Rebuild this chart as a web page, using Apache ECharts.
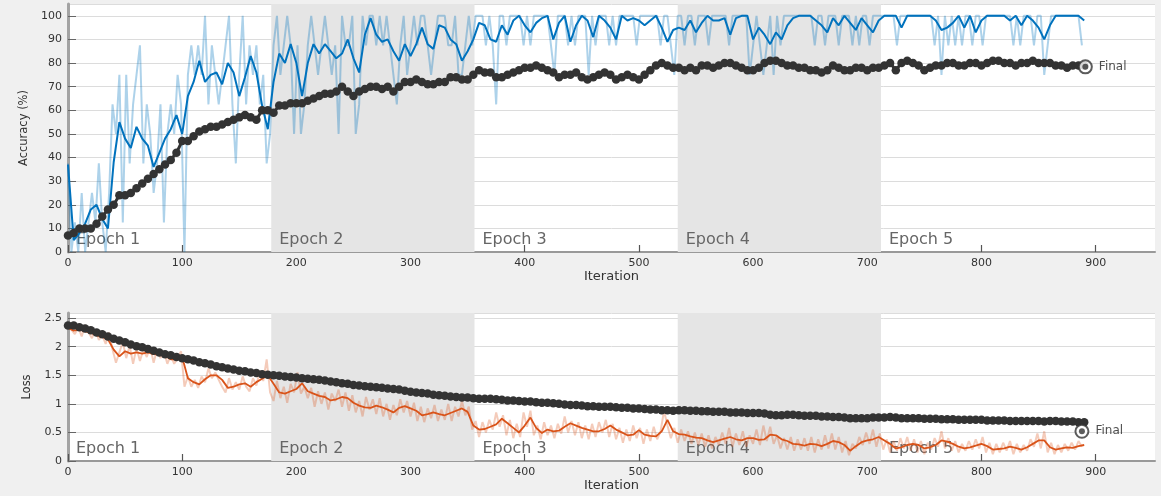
<!DOCTYPE html>
<html>
<head>
<meta charset="utf-8">
<title>Training Progress</title>
<script src="https://cdn.jsdelivr.net/npm/echarts@6/dist/echarts.min.js"></script>
<style>
  html, body { margin: 0; padding: 0; background: #f0f0f0; }
  #chart { width: 1161px; height: 496px; }
</style>
</head>
<body>
<div id="chart"></div>
<script>
// ---- Training run data -------------------------------------------------
const ITERS_PER_EPOCH = 178;
const EPOCHS = ['Epoch 1', 'Epoch 2', 'Epoch 3', 'Epoch 4', 'Epoch 5'];
const ITER_TICKS = [0, 100, 200, 300, 400, 500, 600, 700, 800, 900];

// sample spacing (iterations) of the stored curves
const RAW_STEP = 3;
const SMOOTH_STEP = 5;
const VAL_STEP = 5;

// mini-batch accuracy (%), every 3 iterations
const accuracyRaw = [
  37.5, 0, 12.5, 0, 25, 0, 12.5, 25, 12.5, 37.5,
  12.5, 0, 25, 62.5, 50, 75, 12.5, 75, 37.5, 62.5,
  75, 87.5, 37.5, 62.5, 50, 25, 37.5, 62.5, 12.5, 50,
  62.5, 50, 75, 62.5, 0, 75, 87.5, 75, 87.5, 75,
  100, 62.5, 87.5, 75, 62.5, 75, 87.5, 100, 62.5, 37.5,
  75, 100, 62.5, 87.5, 75, 87.5, 62.5, 75, 37.5, 50,
  87.5, 100, 75, 87.5, 100, 87.5, 50, 87.5, 50, 62.5,
  87.5, 100, 87.5, 75, 87.5, 100, 87.5, 75, 87.5, 50,
  100, 87.5, 87.5, 100, 50, 62.5, 100, 87.5, 100, 100,
  87.5, 100, 87.5, 100, 87.5, 75, 62.5, 87.5, 100, 75,
  87.5, 100, 87.5, 100, 100, 87.5, 75, 87.5, 100, 100,
  100, 87.5, 87.5, 100, 75, 75, 87.5, 100, 87.5, 100,
  100, 100, 87.5, 100, 87.5, 62.5, 100, 100, 87.5, 100,
  100, 100, 100, 87.5, 100, 87.5, 100, 100, 100, 100,
  100, 87.5, 75, 100, 100, 100, 87.5, 100, 87.5, 100,
  100, 100, 75, 100, 87.5, 100, 100, 100, 87.5, 100,
  87.5, 100, 100, 100, 100, 100, 87.5, 100, 100, 100,
  100, 100, 100, 87.5, 100, 100, 87.5, 75, 100, 100,
  87.5, 100, 100, 87.5, 100, 100, 100, 87.5, 100, 100,
  100, 100, 100, 87.5, 100, 100, 100, 100, 100, 75,
  87.5, 100, 87.5, 75, 87.5, 100, 75, 100, 87.5, 100,
  100, 100, 100, 100, 100, 100, 100, 100, 87.5, 100,
  100, 87.5, 100, 100, 100, 87.5, 100, 100, 100, 87.5,
  100, 87.5, 100, 100, 87.5, 100, 100, 100, 100, 100,
  100, 100, 87.5, 100, 100, 100, 100, 100, 100, 100,
  100, 100, 100, 87.5, 100, 75, 100, 87.5, 100, 87.5,
  100, 87.5, 100, 100, 87.5, 100, 100, 87.5, 100, 100,
  100, 100, 100, 100, 100, 100, 87.5, 100, 87.5, 100,
  100, 100, 87.5, 100, 100, 75, 87.5, 100, 100, 100,
  100, 100, 100, 100, 100, 100, 87.5
];

// smoothed training accuracy (%), every 5 iterations
const accuracySmooth = [
  37, 5, 8, 12, 18, 20, 14, 10, 38, 55,
  48, 44, 53, 48, 45, 36, 42, 48, 52, 58,
  50, 66, 72, 81, 72, 75, 76, 71, 80, 76,
  66, 74, 83, 76, 62, 52, 72, 84, 80, 88,
  80, 66, 80, 88, 84, 88, 85, 82, 84, 90,
  82, 76, 92, 99, 92, 89, 90, 85, 81, 88,
  83, 88, 95, 88, 86, 96, 95, 90, 88, 81,
  85, 90, 97, 96, 90, 89, 96, 92, 98, 100,
  96, 93, 97, 99, 100, 90, 97, 100, 89, 96,
  100, 98, 91, 100, 98, 95, 90, 100, 98, 99,
  98, 96, 98, 100, 95, 89, 94, 95, 94, 98,
  93, 97, 100, 98, 98, 99, 92, 99, 100, 100,
  90, 95, 92, 88, 93, 90, 96, 99, 100, 100,
  100, 98, 96, 93, 99, 96, 100, 97, 94, 99,
  96, 93, 98, 100, 100, 100, 95, 100, 100, 100,
  100, 100, 98, 94, 95, 97, 100, 95, 100, 93,
  98, 100, 100, 100, 100, 98, 100, 96, 100, 98,
  95, 90, 96, 100, 100, 100, 100, 100, 98
];

// validation accuracy (%), every 5 iterations
const accuracyVal = [
  7, 8, 10, 10, 10, 12, 15, 18, 20, 24,
  24, 25, 27, 29, 31, 33, 35, 37, 39, 42,
  47, 47, 49, 51, 52, 53, 53, 54, 55, 56,
  57, 58, 57, 56, 60, 60, 59, 62, 62, 63,
  63, 63, 64, 65, 66, 67, 67, 68, 70, 68,
  66, 68, 69, 70, 70, 69, 70, 68, 70, 72,
  72, 73, 72, 71, 71, 72, 72, 74, 74, 73,
  73, 75, 77, 76, 76, 74, 74, 75, 76, 77,
  78, 78, 79, 78, 77, 76, 74, 75, 75, 76,
  74, 73, 74, 75, 76, 75, 73, 74, 75, 74,
  73, 75, 77, 79, 80, 79, 78, 78, 77, 78,
  77, 79, 79, 78, 79, 80, 80, 79, 78, 77,
  77, 78, 80, 81, 81, 80, 79, 79, 78, 78,
  77, 77, 76, 77, 79, 78, 77, 77, 78, 78,
  77, 78, 78, 79, 80, 77, 80, 81, 80, 79,
  77, 78, 79, 79, 80, 80, 79, 79, 80, 80,
  79, 80, 81, 81, 80, 80, 79, 80, 80, 81,
  80, 80, 80, 79, 79, 78, 79, 79, 79
];

// mini-batch loss, every 3 iterations
const lossRaw = [
  2.36, 2.30, 2.22, 2.34, 2.18, 2.38, 2.25, 2.15, 2.30, 2.12,
  2.20, 2.05, 2.25, 1.95, 1.72, 1.90, 2.08, 1.80, 2.02, 1.70,
  1.98, 1.75, 1.95, 1.82, 2.00, 1.72, 1.95, 1.80, 1.92, 1.70,
  1.85, 1.70, 1.80, 1.92, 1.30, 1.48, 1.30, 1.42, 1.28, 1.48,
  1.38, 1.62, 1.45, 1.55, 1.42, 1.30, 1.20, 1.45, 1.25, 1.38,
  1.25, 1.48, 1.30, 1.22, 1.45, 1.32, 1.58, 1.40, 1.78, 1.20,
  1.05, 1.40, 1.10, 1.30, 1.02, 1.35, 1.20, 1.55, 1.18, 1.30,
  1.10, 1.28, 0.95, 1.22, 1.00, 1.20, 0.90, 1.18, 1.05, 1.25,
  0.95, 1.20, 0.88, 1.15, 0.85, 1.05, 0.78, 1.12, 0.90, 1.08,
  0.82, 1.10, 0.78, 1.00, 0.72, 0.98, 0.80, 1.08, 0.85, 1.05,
  0.78, 1.02, 0.70, 0.95, 0.68, 0.92, 0.75, 0.98, 0.70, 0.90,
  0.72, 1.00, 0.70, 0.95, 0.78, 1.05, 0.80, 0.95, 0.55, 0.70,
  0.42, 0.68, 0.50, 0.72, 0.55, 0.85, 0.60, 0.80, 0.45, 0.72,
  0.40, 0.65, 0.42, 0.85, 0.60, 0.88, 0.45, 0.62, 0.38, 0.68,
  0.45, 0.62, 0.40, 0.65, 0.48, 0.78, 0.50, 0.70, 0.45, 0.68,
  0.40, 0.62, 0.38, 0.65, 0.42, 0.68, 0.50, 0.72, 0.42, 0.65,
  0.38, 0.58, 0.32, 0.55, 0.35, 0.62, 0.40, 0.58, 0.30, 0.55,
  0.35, 0.60, 0.38, 0.52, 0.88, 0.62, 0.40, 0.58, 0.32, 0.55,
  0.35, 0.52, 0.30, 0.50, 0.28, 0.48, 0.25, 0.45, 0.22, 0.42,
  0.28, 0.50, 0.30, 0.58, 0.25, 0.48, 0.28, 0.52, 0.25, 0.45,
  0.30, 0.55, 0.28, 0.62, 0.35, 0.60, 0.30, 0.45, 0.22, 0.40,
  0.20, 0.42, 0.18, 0.38, 0.20, 0.40, 0.18, 0.42, 0.15, 0.38,
  0.20, 0.45, 0.22, 0.48, 0.20, 0.42, 0.15, 0.35, 0.10, 0.30,
  0.22, 0.42, 0.28, 0.50, 0.30, 0.55, 0.25, 0.48, 0.20, 0.38,
  0.15, 0.35, 0.18, 0.40, 0.22, 0.42, 0.18, 0.38, 0.15, 0.35,
  0.12, 0.32, 0.20, 0.40, 0.25, 0.52, 0.22, 0.40, 0.18, 0.35,
  0.15, 0.30, 0.18, 0.35, 0.20, 0.38, 0.22, 0.42, 0.15, 0.32,
  0.12, 0.30, 0.15, 0.32, 0.18, 0.35, 0.12, 0.30, 0.15, 0.28,
  0.18, 0.38, 0.25, 0.48, 0.22, 0.52, 0.15, 0.32, 0.12, 0.28,
  0.15, 0.30, 0.18, 0.32, 0.20, 0.35, 0.25
];

// smoothed training loss, every 5 iterations
const lossSmooth = [
  2.33, 2.28, 2.30, 2.27, 2.24, 2.20, 2.17, 2.13, 1.95, 1.83,
  1.92, 1.88, 1.90, 1.88, 1.90, 1.87, 1.86, 1.84, 1.78, 1.78,
  1.82, 1.45, 1.38, 1.34, 1.43, 1.50, 1.50, 1.42, 1.28, 1.30,
  1.34, 1.36, 1.30, 1.38, 1.44, 1.50, 1.35, 1.20, 1.18, 1.22,
  1.26, 1.36, 1.22, 1.18, 1.14, 1.12, 1.06, 1.08, 1.12, 1.10,
  1.02, 0.97, 0.94, 0.93, 0.97, 0.94, 0.90, 0.85, 0.93, 0.96,
  0.92, 0.88, 0.80, 0.82, 0.85, 0.82, 0.80, 0.84, 0.88, 0.92,
  0.86, 0.62, 0.55, 0.56, 0.60, 0.64, 0.74, 0.66, 0.58, 0.50,
  0.62, 0.76, 0.58, 0.49, 0.55, 0.52, 0.53, 0.60, 0.66, 0.62,
  0.58, 0.55, 0.52, 0.52, 0.56, 0.62, 0.55, 0.50, 0.45, 0.46,
  0.54, 0.46, 0.44, 0.43, 0.52, 0.72, 0.52, 0.47, 0.46, 0.43,
  0.41, 0.40, 0.36, 0.33, 0.36, 0.39, 0.42, 0.38, 0.36, 0.40,
  0.40, 0.37, 0.38, 0.46, 0.45, 0.38, 0.35, 0.30, 0.29, 0.27,
  0.30, 0.29, 0.26, 0.30, 0.35, 0.33, 0.28, 0.18, 0.26, 0.33,
  0.36, 0.38, 0.42, 0.36, 0.30, 0.22, 0.24, 0.28, 0.30, 0.28,
  0.22, 0.24, 0.28, 0.36, 0.34, 0.30, 0.25, 0.22, 0.24, 0.27,
  0.30, 0.26, 0.20, 0.21, 0.22, 0.25, 0.23, 0.20, 0.24, 0.30,
  0.36, 0.36, 0.24, 0.20, 0.22, 0.24, 0.23, 0.26, 0.28
];

// validation loss, every 5 iterations
const lossVal = [
  2.37, 2.37, 2.34, 2.32, 2.29, 2.25, 2.22, 2.18, 2.14, 2.11,
  2.08, 2.04, 2.01, 1.99, 1.96, 1.93, 1.90, 1.87, 1.85, 1.82,
  1.80, 1.78, 1.76, 1.73, 1.71, 1.69, 1.66, 1.64, 1.62, 1.60,
  1.58, 1.57, 1.55, 1.54, 1.52, 1.51, 1.50, 1.49, 1.48, 1.47,
  1.46, 1.45, 1.44, 1.43, 1.42, 1.41, 1.39, 1.38, 1.36, 1.35,
  1.33, 1.32, 1.31, 1.30, 1.29, 1.28, 1.27, 1.26, 1.25, 1.23,
  1.21, 1.20, 1.19, 1.18, 1.16, 1.15, 1.14, 1.13, 1.12, 1.11,
  1.11, 1.10, 1.09, 1.09, 1.09, 1.08, 1.07, 1.06, 1.06, 1.05,
  1.04, 1.04, 1.03, 1.02, 1.02, 1.01, 1.00, 0.99, 0.98, 0.98,
  0.97, 0.96, 0.96, 0.95, 0.95, 0.95, 0.94, 0.93, 0.93, 0.92,
  0.92, 0.91, 0.90, 0.90, 0.89, 0.89, 0.88, 0.89, 0.89, 0.88,
  0.88, 0.87, 0.87, 0.86, 0.86, 0.86, 0.85, 0.85, 0.85, 0.84,
  0.84, 0.84, 0.83, 0.81, 0.80, 0.80, 0.81, 0.81, 0.80, 0.79,
  0.79, 0.79, 0.78, 0.78, 0.77, 0.77, 0.76, 0.75, 0.75, 0.75,
  0.75, 0.76, 0.76, 0.76, 0.77, 0.76, 0.75, 0.75, 0.75, 0.75,
  0.74, 0.74, 0.74, 0.73, 0.73, 0.73, 0.72, 0.72, 0.72, 0.72,
  0.72, 0.71, 0.71, 0.71, 0.71, 0.70, 0.70, 0.70, 0.70, 0.70,
  0.70, 0.69, 0.70, 0.70, 0.69, 0.69, 0.69, 0.68, 0.68
];

// final validation results (after training)
const FINAL_ITERATION_ACC = 891;
const FINAL_ACCURACY = 78.4;
const FINAL_ITERATION_LOSS = 888;
const FINAL_LOSS = 0.52;

// ---- helpers --------------------------------------------------------------
const toPairs = (values, step) => values.map((v, i) => [i * step, v]);

const FONT = 'DejaVu Sans';
const TEXT = '#333333';
const AXIS_GRAY = '#a3a3a3';
const GRID_GRAY = '#dcdcdc';
const SHADE = '#e5e5e5';
const BLUE = '#0072BD';
const ORANGE = '#D95319';
const DARK = '#333333';

function epochAreas() {
  return EPOCHS.map((name, i) => [
    {
      name: name,
      xAxis: i * ITERS_PER_EPOCH,
      itemStyle: { color: i % 2 === 1 ? SHADE : 'rgba(255,255,255,0)' }
    },
    { xAxis: (i + 1) * ITERS_PER_EPOCH }
  ]);
}

function epochBandSeries(gridIdx) {
  return {
    type: 'line',
    xAxisIndex: gridIdx,
    yAxisIndex: gridIdx,
    data: [],
    z: 1,
    silent: true,
    markArea: {
      silent: true,
      z: 1,
      label: {
        show: true,
        position: 'insideBottomLeft',
        distance: 4,
        offset: [4, 0],
        color: '#666666',
        fontFamily: FONT,
        fontSize: 16
      },
      data: epochAreas()
    }
  };
}

function xAxisFor(gridIdx) {
  return {
    type: 'value',
    gridIndex: gridIdx,
    min: 0,
    max: 952,
    interval: 100,
    name: 'Iteration',
    nameLocation: 'middle',
    nameGap: 17,
    nameTextStyle: { color: TEXT, fontFamily: FONT, fontSize: 13 },
    axisLine: { show: true, lineStyle: { color: '#999999', width: 2 } },
    axisTick: { show: true, inside: true, length: 7, lineStyle: { color: '#555555', width: 1.2 } },
    axisLabel: {
      color: TEXT, fontFamily: FONT, fontSize: 11, margin: 6,
      showMaxLabel: false,
      formatter: v => (ITER_TICKS.indexOf(v) >= 0 ? String(v) : '')
    },
    splitLine: { show: false }
  };
}

function yAxisFor(gridIdx, opts) {
  return Object.assign({
    type: 'value',
    gridIndex: gridIdx,
    min: 0,
    nameLocation: 'middle',
    nameRotate: 90,
    nameTextStyle: { color: TEXT, fontFamily: FONT, fontSize: 11.5 },
    axisLine: { show: true, lineStyle: { color: AXIS_GRAY, width: 3 } },
    axisTick: { show: true, inside: true, length: 8, lineStyle: { color: '#666666', width: 1 } },
    axisLabel: { color: TEXT, fontFamily: FONT, fontSize: 11, margin: 6, showMaxLabel: false },
    splitLine: { show: true, lineStyle: { color: GRID_GRAY, width: 1 } }
  }, opts);
}

function finalMarker(gridIdx, x, y) {
  return [
    {
      type: 'scatter',
      xAxisIndex: gridIdx,
      yAxisIndex: gridIdx,
      z: 6,
      symbol: 'circle',
      symbolSize: 13,
      itemStyle: { color: '#ffffff', borderColor: DARK, borderWidth: 2 },
      label: {
        show: true,
        position: 'right',
        distance: 6,
        formatter: 'Final',
        color: '#222222',
        fontFamily: FONT,
        fontSize: 12
      },
      data: [[x, y]]
    },
    {
      type: 'scatter',
      xAxisIndex: gridIdx,
      yAxisIndex: gridIdx,
      z: 7,
      symbol: 'circle',
      symbolSize: 6,
      itemStyle: { color: DARK },
      data: [[x, y]]
    }
  ];
}

// validation curve: dense chain of filled markers
function validationSeries(gridIdx, values) {
  return {
    type: 'line', xAxisIndex: gridIdx, yAxisIndex: gridIdx, z: 4,
    symbol: 'circle', symbolSize: 8.5, showAllSymbol: true,
    itemStyle: { color: DARK },
    lineStyle: { color: DARK, width: 3 },
    data: toPairs(values, VAL_STEP)
  };
}

const chart = echarts.init(document.getElementById('chart'), null, { renderer: 'canvas' });

chart.setOption({
  animation: false,
  backgroundColor: '#f0f0f0',
  textStyle: { fontFamily: FONT },
  grid: [
    { left: 68, top: 4, width: 1087, height: 248, show: true, backgroundColor: '#ffffff', borderWidth: 0 },
    { left: 68, top: 313, width: 1087, height: 148, show: true, backgroundColor: '#ffffff', borderWidth: 0 }
  ],
  xAxis: [xAxisFor(0), xAxisFor(1)],
  yAxis: [
    yAxisFor(0, { max: 105, interval: 10, name: 'Accuracy (%)', nameGap: 36 }),
    yAxisFor(1, { max: 2.59, interval: 0.5, name: 'Loss', nameGap: 35 })
  ],
  series: [
    epochBandSeries(0),
    {
      type: 'line', xAxisIndex: 0, yAxisIndex: 0, z: 2,
      showSymbol: false,
      lineStyle: { color: 'rgba(0,114,189,0.32)', width: 2 },
      data: toPairs(accuracyRaw, RAW_STEP)
    },
    {
      type: 'line', xAxisIndex: 0, yAxisIndex: 0, z: 3,
      showSymbol: false,
      lineStyle: { color: BLUE, width: 2 },
      data: toPairs(accuracySmooth, SMOOTH_STEP)
    },
    validationSeries(0, accuracyVal),
    ...finalMarker(0, FINAL_ITERATION_ACC, FINAL_ACCURACY),

    epochBandSeries(1),
    {
      type: 'line', xAxisIndex: 1, yAxisIndex: 1, z: 2,
      showSymbol: false,
      lineStyle: { color: 'rgba(217,83,25,0.30)', width: 2 },
      data: toPairs(lossRaw, RAW_STEP)
    },
    {
      type: 'line', xAxisIndex: 1, yAxisIndex: 1, z: 3,
      showSymbol: false,
      lineStyle: { color: ORANGE, width: 1.8 },
      data: toPairs(lossSmooth, SMOOTH_STEP)
    },
    validationSeries(1, lossVal),
    ...finalMarker(1, FINAL_ITERATION_LOSS, FINAL_LOSS)
  ]
});
</script>
</body>
</html>
